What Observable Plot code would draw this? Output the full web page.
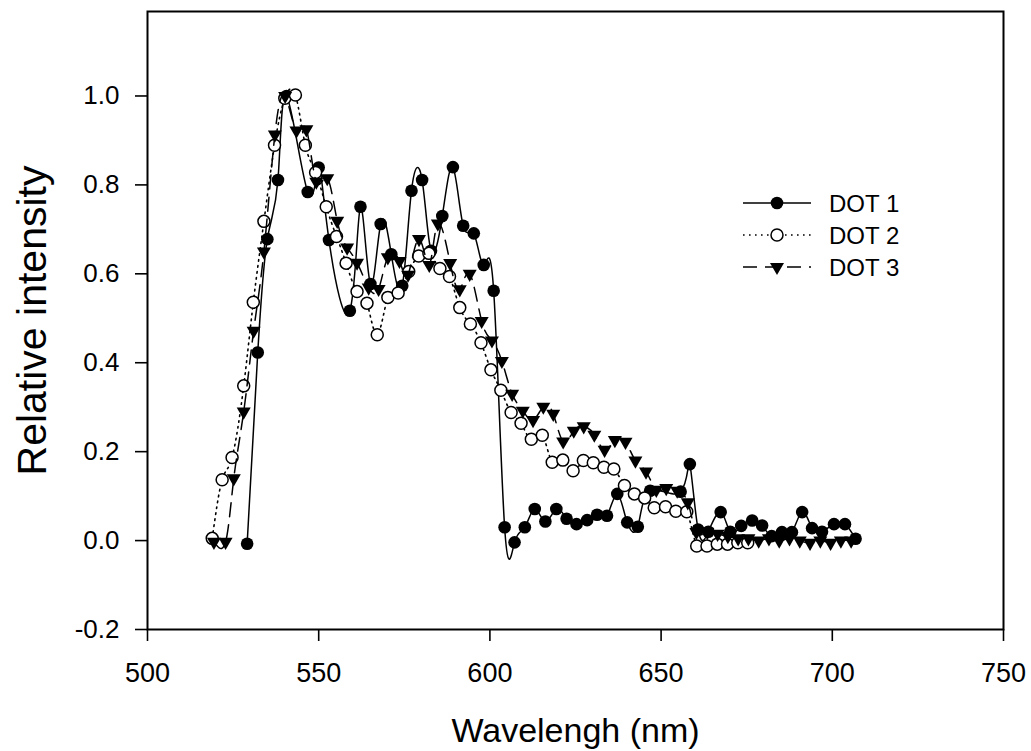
<!DOCTYPE html>
<html>
<head>
<meta charset="utf-8">
<script src="https://cdn.jsdelivr.net/npm/d3@7"></script>
<script src="https://cdn.jsdelivr.net/npm/@observablehq/plot@0.6"></script>
<style>
  body { margin: 0; background: #fff; }
  #chart svg { display: block; }
</style>
</head>
<body>
<div id="chart"></div>
<script>
// ---- data ----
const dot1X = [529.1, 532.2, 535.0, 538.1, 540.6, 546.8, 550.0, 553.0, 559.1, 562.2, 565.1, 568.1, 571.2, 574.4, 577.1, 580.2, 582.8, 586.1, 589.2, 592.2, 595.3, 598.2, 601.1, 604.3, 607.2, 610.2, 613.1, 616.2, 619.4, 622.4, 625.3, 628.4, 631.3, 634.2, 637.2, 640.1, 643.2, 646.8, 655.7, 658.4, 660.8, 663.8, 667.4, 670.2, 673.4, 676.6, 679.5, 682.3, 685.3, 688.2, 691.2, 694.1, 697.0, 700.5, 703.7, 706.8];
const dot1Y = [-0.007, 0.423, 0.678, 0.811, 1.0, 0.784, 0.839, 0.676, 0.517, 0.751, 0.577, 0.712, 0.644, 0.573, 0.787, 0.811, 0.652, 0.730, 0.840, 0.708, 0.691, 0.620, 0.562, 0.030, -0.004, 0.030, 0.071, 0.043, 0.071, 0.049, 0.037, 0.046, 0.058, 0.056, 0.105, 0.041, 0.031, 0.112, 0.110, 0.172, 0.025, 0.020, 0.064, 0.020, 0.033, 0.045, 0.034, 0.010, 0.019, 0.019, 0.064, 0.028, 0.020, 0.037, 0.037, 0.004];

const dot2X = [518.9, 521.8, 524.7, 528.1, 530.9, 534.0, 537.1, 540.1, 543.2, 546.1, 549.1, 552.2, 555.2, 558.0, 561.2, 564.1, 567.1, 570.2, 573.2, 576.3, 579.2, 582.2, 585.4, 588.2, 591.2, 594.3, 597.4, 600.3, 603.2, 606.2, 609.1, 612.1, 615.3, 618.2, 621.3, 624.3, 627.3, 630.2, 633.3, 636.2, 639.3, 642.2, 645.2, 648.0, 651.3, 654.3, 657.5, 660.4, 663.4, 666.4, 669.4, 672.4, 675.3];
const dot2Y = [0.005, 0.137, 0.187, 0.348, 0.536, 0.718, 0.889, 0.995, 1.002, 0.889, 0.828, 0.751, 0.684, 0.624, 0.560, 0.534, 0.463, 0.547, 0.557, 0.605, 0.640, 0.646, 0.612, 0.594, 0.524, 0.487, 0.445, 0.384, 0.338, 0.288, 0.264, 0.228, 0.237, 0.176, 0.181, 0.157, 0.180, 0.175, 0.165, 0.161, 0.124, 0.105, 0.096, 0.074, 0.076, 0.066, 0.065, -0.012, -0.012, -0.008, -0.008, -0.005, -0.005];

const dot3X = [519.4, 522.8, 525.2, 528.1, 531.0, 534.0, 537.2, 540.2, 543.5, 546.4, 549.3, 552.5, 555.4, 558.3, 561.2, 564.6, 567.5, 570.2, 573.6, 576.1, 579.3, 582.3, 584.8, 588.4, 591.2, 594.1, 597.6, 600.6, 603.5, 606.5, 609.6, 612.6, 615.6, 618.5, 621.4, 624.5, 627.4, 630.5, 633.5, 636.5, 639.6, 642.5, 645.6, 648.6, 651.5, 654.7, 657.8, 660.3, 663.5, 666.5, 669.5, 672.5, 675.5, 678.5, 681.5, 684.5, 687.5, 690.5, 693.5, 696.5, 699.5, 702.5, 705.5];
const dot3Y = [-0.003, -0.003, 0.14, 0.29, 0.472, 0.65, 0.913, 1.0, 0.922, 0.925, 0.807, 0.815, 0.719, 0.659, 0.625, 0.569, 0.566, 0.637, 0.629, 0.598, 0.678, 0.62, 0.713, 0.624, 0.565, 0.6, 0.494, 0.45, 0.404, 0.33, 0.292, 0.271, 0.301, 0.285, 0.223, 0.247, 0.257, 0.238, 0.204, 0.226, 0.222, 0.18, 0.155, 0.114, 0.118, 0.112, 0.086, 0.019, 0.019, 0.015, 0.01, 0.005, 0.005, 0.0, 0.005, 0.0, 0.005, 0.0, -0.005, 0.0, -0.005, 0.0, 0.0];

const seriesNames = ["DOT 1", "DOT 2", "DOT 3"];
const xTicks = [500, 550, 600, 650, 700, 750];
const yTicks = [-0.2, 0.0, 0.2, 0.4, 0.6, 0.8, 1.0];
const xTitle = "Wavelengh (nm)";
const yTitle = "Relative intensity";

// ---- build tables ----
const toRows = (xs, ys) => xs.map((x, i) => ({x, y: ys[i]}));
const d1 = toRows(dot1X, dot1Y);
const d2 = toRows(dot2X, dot2Y);
const d3r = toRows(dot3X, dot3Y);

const FONT = "'Liberation Sans', Arial, Helvetica, sans-serif";

const chart = Plot.plot({
  width: 1031,
  height: 751,
  marginLeft: 147,
  marginRight: 28,
  marginTop: 11,
  marginBottom: 122,
  style: {fontFamily: FONT, background: "#fff", color: "#000", overflow: "visible"},
  x: {domain: [500, 750]},
  y: {domain: [-0.2, 1.19]},
  marks: [
    Plot.axisX({ticks: xTicks, tickSize: 12, tickPadding: 21, strokeWidth: 1.6, fontSize: 27, tickFormat: d => String(d), label: null}),
    Plot.axisY({ticks: yTicks, tickSize: 12, tickPadding: 16, strokeWidth: 1.6, fontSize: 26, tickFormat: d => d.toFixed(1).replace("\u2212", "-"), label: null}),
    Plot.frame({stroke: "#000", strokeWidth: 2}),
    // DOT 1
    Plot.line(d1, {x: "x", y: "y", curve: "natural", stroke: "#000", strokeWidth: 1.5}),
    Plot.dot(d1, {x: "x", y: "y", r: 6.3, fill: "#000", stroke: "none"}),
    // DOT 2
    Plot.line(d2, {x: "x", y: "y", curve: "natural", stroke: "#000", strokeWidth: 1.6, strokeDasharray: "1.6,4.4"}),
    Plot.dot(d2, {x: "x", y: "y", r: 6.0, fill: "#fff", stroke: "#000", strokeWidth: 1.5}),
    // DOT 3
    Plot.line(d3r, {x: "x", y: "y", curve: "natural", stroke: "#000", strokeWidth: 1.5, strokeDasharray: "14,8"}),
    Plot.dot(d3r, {x: "x", y: "y", r: 5.2, symbol: "triangle", rotate: 180, fill: "#000", stroke: "none"}),
    // axis titles
    Plot.text([xTitle], {text: d => d, frameAnchor: "bottom", dy: 112, fontSize: 34, fill: "#000"}),
    Plot.text([yTitle], {text: d => d, frameAnchor: "left", textAnchor: "middle", lineAnchor: "middle", dx: -115, rotate: -90, fontSize: 41, fill: "#000"})
  ]
});

// ---- legend ----
const svg = d3.select(chart);
const legend = svg.append("g").attr("font-family", FONT).attr("text-anchor", "start");
const legY = [203, 235, 267];
const styles = [
  {dash: null, sym: "filled"},
  {dash: "1.6,4.4", sym: "open"},
  {dash: "14,8", sym: "tri"}
];
seriesNames.forEach((name, i) => {
  const y = legY[i];
  const st = styles[i];
  const line = legend.append("line").attr("x1", 743).attr("x2", 811).attr("y1", y).attr("y2", y)
    .attr("stroke", "#000").attr("stroke-width", 1.5);
  if (st.dash) line.attr("stroke-dasharray", st.dash);
  if (st.sym === "filled") {
    legend.append("circle").attr("cx", 777).attr("cy", y).attr("r", 6.3).attr("fill", "#000");
  } else if (st.sym === "open") {
    legend.append("circle").attr("cx", 777).attr("cy", y).attr("r", 6.0).attr("fill", "#fff").attr("stroke", "#000").attr("stroke-width", 1.5);
  } else {
    legend.append("path").attr("d", d3.symbol(d3.symbolTriangle, Math.PI * 5.2 * 5.2)())
      .attr("transform", `translate(777,${y}) rotate(180)`).attr("fill", "#000");
  }
  legend.append("text").attr("x", 829).attr("y", y).attr("dy", "0.36em")
    .attr("text-anchor", "start").attr("font-size", 24).attr("fill", "#000").text(name);
});

document.getElementById("chart").appendChild(chart);
</script>
</body>
</html>
